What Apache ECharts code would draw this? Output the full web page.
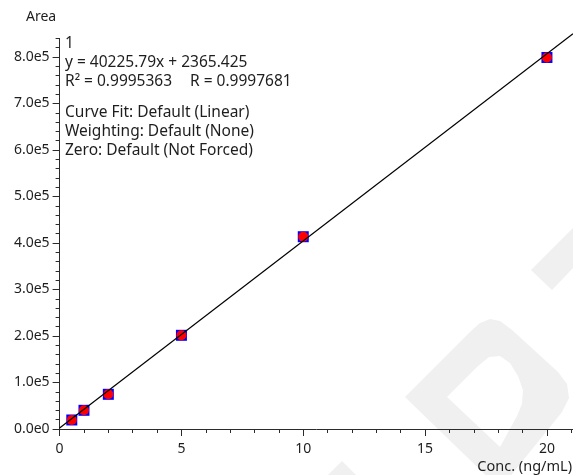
<!DOCTYPE html>
<html>
<head>
<meta charset="utf-8">
<title>Calibration curve</title>
<script src="https://cdn.jsdelivr.net/npm/echarts@6/dist/echarts.min.js"></script>
<style>
  html, body { margin: 0; padding: 0; background: #ffffff; }
  #chart { width: 573px; height: 475px; }
</style>
</head>
<body>
<div id="chart"></div>
<script>
// Calibration standards: concentration (ng/mL) and measured peak area
const concentrations = [0.5, 1, 2, 5, 10, 20];
const areas = [19400, 40200, 74600, 201500, 413500, 799000];

// Linear fit reported for the curve
const fitSlope = 40225.79;
const fitIntercept = 2365.425;

// Axis ranges and tick positions
const xMin = 0, xMax = 21.07;
const yMin = 0, yMax = 840000;
const xTickValues = [0, 5, 10, 15, 20];
const xMinorTickValues = [0, 1, 2, 3, 4, 5, 6, 7, 8, 9, 10, 11, 12, 13, 14, 15, 16, 17, 18, 19, 20, 21];
const yTickValues = [0, 100000, 200000, 300000, 400000, 500000, 600000, 700000, 800000];
const yMinorTickValues = [0, 20000, 40000, 60000, 80000, 100000, 120000, 140000, 160000, 180000,
  200000, 220000, 240000, 260000, 280000, 300000, 320000, 340000, 360000, 380000,
  400000, 420000, 440000, 460000, 480000, 500000, 520000, 540000, 560000, 580000,
  600000, 620000, 640000, 660000, 680000, 700000, 720000, 740000, 760000, 780000,
  800000, 820000, 840000];

// Text block describing the fit
const infoLines = [
  { text: '1', x: 65, y: 44 },
  { text: 'y = 40225.79x + 2365.425', x: 65, y: 63 },
  { text: 'R\u00B2 = 0.9995363', x: 65, y: 82 },
  { text: 'R = 0.9997681', x: 190, y: 82 },
  { text: 'Curve Fit: Default (Linear)', x: 65, y: 113 },
  { text: 'Weighting: Default (None)', x: 65, y: 132 },
  { text: 'Zero: Default (Not Forced)', x: 65, y: 151 }
];

const FONT = '"Noto Sans", "Open Sans", sans-serif';
const AXIS_COLOR = '#2b2b2b';
const TEXT_COLOR = '#1e1e1e';
const MARK_COLOR = '#f0f0f0';

function sciLabel(v) {
  if (v === 0) return '0.0e0';
  const exp = Math.floor(Math.log10(Math.abs(v)) + 1e-9);
  const mant = v / Math.pow(10, exp);
  return mant.toFixed(1) + 'e' + exp;
}

const points = concentrations.map((c, i) => [c, areas[i]]);
const fitLine = [[xMin, fitSlope * xMin + fitIntercept], [xMax, fitSlope * xMax + fitIntercept]];

const chart = echarts.init(document.getElementById('chart'), null, { renderer: 'canvas' });

const textGraphics = infoLines.map(l => ({
  type: 'text', z: 100,
  style: { text: l.text, x: l.x, y: l.y, font: '15.5px ' + FONT, fill: TEXT_COLOR,
    align: 'left', verticalAlign: 'middle', textAlign: 'left', textVerticalAlign: 'middle' }
}));

const option = {
  animation: false,
  backgroundColor: '#ffffff',
  grid: { left: 59.6, right: 0, top: 38.4, bottom: 46 },
  graphic: [
    // faint background logo
    { type: 'polygon', z: -10, silent: true,
      shape: { points: [[405, 397], [470, 332], [480, 323], [490, 319], [500, 321], [512, 330],
        [558, 372], [567, 384], [569, 398], [562, 412], [500, 489]] },
      style: { fill: MARK_COLOR } },
    { type: 'polygon', z: -9, silent: true,
      shape: { points: [[447, 397], [478, 366], [489, 357], [500, 356], [510, 363], [518, 376],
        [523, 390], [522, 404], [517, 416], [500, 447]] },
      style: { fill: '#ffffff' } },
    { type: 'polygon', z: -10, silent: true,
      shape: { points: [[531, 270], [573, 228], [573, 268], [552, 290]] },
      style: { fill: MARK_COLOR } },
    { type: 'polygon', z: -10, silent: true,
      shape: { points: [[342, 461], [356, 475], [328, 475]] },
      style: { fill: MARK_COLOR } },
    { type: 'text', z: 100,
      style: { text: 'Area', x: 26, y: 17, font: '14px ' + FONT, fill: TEXT_COLOR,
        align: 'left', verticalAlign: 'middle', textAlign: 'left', textVerticalAlign: 'middle' } },
    { type: 'text', z: 100,
      style: { text: 'Conc. (ng/mL)', x: 572, y: 467, font: '14.5px ' + FONT, fill: TEXT_COLOR,
        align: 'right', verticalAlign: 'middle', textAlign: 'right', textVerticalAlign: 'middle' } }
  ].concat(textGraphics),
  xAxis: [
    {
      type: 'value', min: xMin, max: xMax, position: 'bottom', gridIndex: 0,
      axisLine: { show: true, onZero: false, lineStyle: { color: AXIS_COLOR, width: 1 } },
      axisTick: { show: true, length: 7, customValues: xTickValues, lineStyle: { color: AXIS_COLOR, width: 1 } },
      axisLabel: { customValues: xTickValues, margin: 13, fontSize: 14, fontFamily: FONT, color: TEXT_COLOR },
      splitLine: { show: false }
    },
    {
      type: 'value', min: xMin, max: xMax, position: 'bottom', gridIndex: 0, offset: 0,
      axisLine: { show: false, onZero: false },
      axisTick: { show: true, length: 4, customValues: xMinorTickValues, lineStyle: { color: AXIS_COLOR, width: 1 } },
      axisLabel: { show: false },
      splitLine: { show: false }
    }
  ],
  yAxis: [
    {
      type: 'value', min: yMin, max: yMax, position: 'left', gridIndex: 0,
      axisLine: { show: true, onZero: false, lineStyle: { color: AXIS_COLOR, width: 1 } },
      axisTick: { show: true, length: 7, customValues: yTickValues, lineStyle: { color: AXIS_COLOR, width: 1 } },
      axisLabel: { customValues: yTickValues, margin: 10, fontSize: 14, fontFamily: FONT, color: TEXT_COLOR,
        formatter: sciLabel },
      splitLine: { show: false }
    },
    {
      type: 'value', min: yMin, max: yMax, position: 'left', gridIndex: 0, offset: 0,
      axisLine: { show: false, onZero: false },
      axisTick: { show: true, length: 4, customValues: yMinorTickValues, lineStyle: { color: AXIS_COLOR, width: 1 } },
      axisLabel: { show: false },
      splitLine: { show: false }
    }
  ],
  series: [
    {
      name: 'Standards (frame)', type: 'scatter', xAxisIndex: 0, yAxisIndex: 0,
      data: points, symbol: 'rect', symbolSize: 11, z: 2,
      itemStyle: { color: '#0000ff', opacity: 1 }, silent: true
    },
    {
      name: 'Standards', type: 'scatter', xAxisIndex: 0, yAxisIndex: 0,
      data: points, symbol: 'circle', symbolSize: 10, z: 3,
      itemStyle: { color: '#ff0000', opacity: 1 }, silent: true
    },
    {
      name: 'Fit', type: 'line', xAxisIndex: 0, yAxisIndex: 0,
      data: fitLine, showSymbol: false, symbol: 'none', clip: false, z: 4,
      lineStyle: { color: '#000000', width: 1.2 }, silent: true
    }
  ]
};

chart.setOption(option);
</script>
</body>
</html>
